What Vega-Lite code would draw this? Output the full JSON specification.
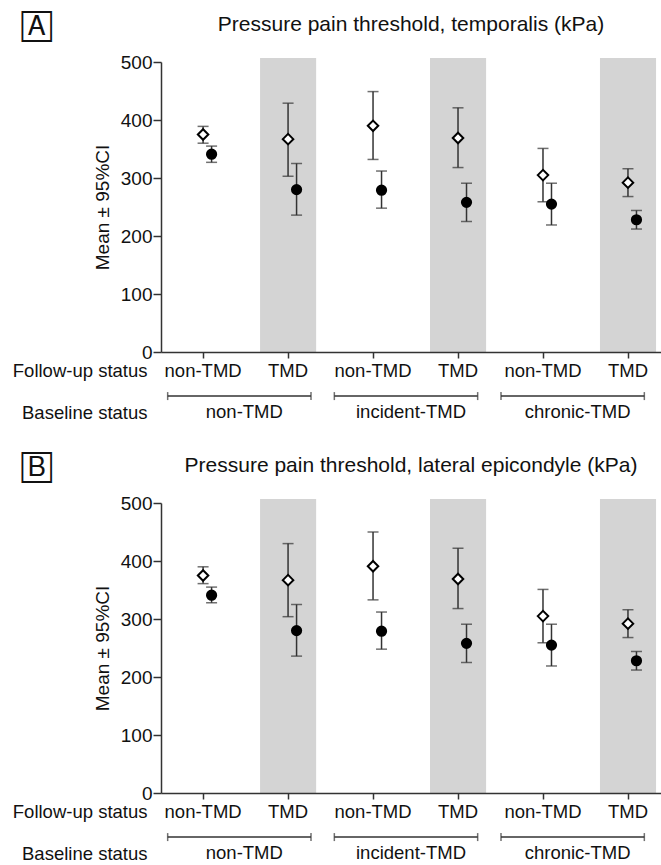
{
  "$schema": "https://vega.github.io/schema/vega-lite/v6.json",
  "padding": {"left": 12, "top": 13, "right": 0, "bottom": 0},
  "config": {
    "font": "Liberation Sans",
    "view": {"stroke": null},
    "axis": {"labelFont": "Liberation Sans", "titleFont": "Liberation Sans", "labelColor": "#111", "titleColor": "#111", "domainColor": "#333", "tickColor": "#333", "domainWidth": 1.5, "tickWidth": 1.5, "grid": false, "labelFontSize": 18.5, "titleFontSize": 18.5, "titleFontWeight": "normal"},
    "title": {"font": "Liberation Sans", "fontSize": 21, "fontWeight": "normal", "color": "#111"},
    "concat": {"spacing": 32}
  },
  "datasets": {
    "pts": [
      {"panel": "A", "cat": "non-TMD|non-TMD", "base": "non-TMD", "fu": "non-TMD", "time": "Baseline", "mean": 375, "lo": 360, "hi": 389},
      {"panel": "A", "cat": "non-TMD|non-TMD", "base": "non-TMD", "fu": "non-TMD", "time": "Follow-up", "mean": 341, "lo": 327, "hi": 355},
      {"panel": "A", "cat": "non-TMD|TMD", "base": "non-TMD", "fu": "TMD", "time": "Baseline", "mean": 367, "lo": 303, "hi": 429},
      {"panel": "A", "cat": "non-TMD|TMD", "base": "non-TMD", "fu": "TMD", "time": "Follow-up", "mean": 280, "lo": 236, "hi": 325},
      {"panel": "A", "cat": "incident-TMD|non-TMD", "base": "incident-TMD", "fu": "non-TMD", "time": "Baseline", "mean": 390, "lo": 332, "hi": 449},
      {"panel": "A", "cat": "incident-TMD|non-TMD", "base": "incident-TMD", "fu": "non-TMD", "time": "Follow-up", "mean": 279, "lo": 248, "hi": 312},
      {"panel": "A", "cat": "incident-TMD|TMD", "base": "incident-TMD", "fu": "TMD", "time": "Baseline", "mean": 369, "lo": 318, "hi": 421},
      {"panel": "A", "cat": "incident-TMD|TMD", "base": "incident-TMD", "fu": "TMD", "time": "Follow-up", "mean": 258, "lo": 225, "hi": 291},
      {"panel": "A", "cat": "chronic-TMD|non-TMD", "base": "chronic-TMD", "fu": "non-TMD", "time": "Baseline", "mean": 305, "lo": 259, "hi": 351},
      {"panel": "A", "cat": "chronic-TMD|non-TMD", "base": "chronic-TMD", "fu": "non-TMD", "time": "Follow-up", "mean": 255, "lo": 219, "hi": 291},
      {"panel": "A", "cat": "chronic-TMD|TMD", "base": "chronic-TMD", "fu": "TMD", "time": "Baseline", "mean": 292, "lo": 268, "hi": 316},
      {"panel": "A", "cat": "chronic-TMD|TMD", "base": "chronic-TMD", "fu": "TMD", "time": "Follow-up", "mean": 228, "lo": 212, "hi": 244},
      {"panel": "B", "cat": "non-TMD|non-TMD", "base": "non-TMD", "fu": "non-TMD", "time": "Baseline", "mean": 375, "lo": 361, "hi": 390},
      {"panel": "B", "cat": "non-TMD|non-TMD", "base": "non-TMD", "fu": "non-TMD", "time": "Follow-up", "mean": 341, "lo": 328, "hi": 355},
      {"panel": "B", "cat": "non-TMD|TMD", "base": "non-TMD", "fu": "TMD", "time": "Baseline", "mean": 367, "lo": 304, "hi": 430},
      {"panel": "B", "cat": "non-TMD|TMD", "base": "non-TMD", "fu": "TMD", "time": "Follow-up", "mean": 280, "lo": 236, "hi": 325},
      {"panel": "B", "cat": "incident-TMD|non-TMD", "base": "incident-TMD", "fu": "non-TMD", "time": "Baseline", "mean": 391, "lo": 333, "hi": 450},
      {"panel": "B", "cat": "incident-TMD|non-TMD", "base": "incident-TMD", "fu": "non-TMD", "time": "Follow-up", "mean": 279, "lo": 248, "hi": 312},
      {"panel": "B", "cat": "incident-TMD|TMD", "base": "incident-TMD", "fu": "TMD", "time": "Baseline", "mean": 369, "lo": 318, "hi": 422},
      {"panel": "B", "cat": "incident-TMD|TMD", "base": "incident-TMD", "fu": "TMD", "time": "Follow-up", "mean": 258, "lo": 225, "hi": 291},
      {"panel": "B", "cat": "chronic-TMD|non-TMD", "base": "chronic-TMD", "fu": "non-TMD", "time": "Baseline", "mean": 305, "lo": 259, "hi": 351},
      {"panel": "B", "cat": "chronic-TMD|non-TMD", "base": "chronic-TMD", "fu": "non-TMD", "time": "Follow-up", "mean": 255, "lo": 219, "hi": 291},
      {"panel": "B", "cat": "chronic-TMD|TMD", "base": "chronic-TMD", "fu": "TMD", "time": "Baseline", "mean": 292, "lo": 268, "hi": 316},
      {"panel": "B", "cat": "chronic-TMD|TMD", "base": "chronic-TMD", "fu": "TMD", "time": "Follow-up", "mean": 228, "lo": 212, "hi": 244}
    ],
    "base": [
      {"base": "non-TMD"},
      {"base": "incident-TMD"},
      {"base": "chronic-TMD"}
    ]
  },
  "vconcat": [
    {
      "title": {"text": "🄰", "anchor": "start", "frame": "bounds", "offset": -27, "dx": 10, "fontSize": 27, "font": "DejaVu Sans"},
      "vconcat": [
        {
          "title": {"text": "Pressure pain threshold, temporalis (kPa)", "anchor": "middle", "frame": "group", "offset": 18},
          "width": 500,
          "height": 290,
          "resolve": {"scale": {"x": "independent"}},
          "layer": [
            {
              "data": {"name": "pts"},
              "transform": [{"filter": "datum.panel === 'A'"}],
              "encoding": {
                "x": {"field": "cat", "type": "nominal", "scale": {"domain": ["non-TMD|non-TMD", "non-TMD|TMD", "incident-TMD|non-TMD", "incident-TMD|TMD", "chronic-TMD|non-TMD", "chronic-TMD|TMD"], "paddingInner": 0.34, "paddingOuter": 0.112, "align": 0.74},
                  "axis": {"title": "Follow-up status", "labelExpr": "split(datum.label, '|')[1]", "labelAngle": 0, "tickSize": 6, "labelPadding": 3, "titleX": -14, "titleY": 18, "titleAlign": "right", "titleBaseline": "middle"}}
              },
              "layer": [
                {
                  "transform": [{"filter": "datum.fu === 'TMD' && datum.time === 'Baseline'"}],
                  "mark": {"type": "rect", "color": "#d4d4d4"},
                  "encoding": {
                    "x": {"field": "cat", "type": "nominal", "bandPosition": 0},
                    "x2": {"field": "cat", "bandPosition": 1},
                    "y": {"datum": 0, "type": "quantitative"}, "y2": {"datum": 507}}
                },
                {
                  "mark": {"type": "rule", "color": "#333", "strokeWidth": 1.5},
                  "encoding": {
                    "xOffset": {"field": "time", "type": "nominal", "scale": {"type": "point", "domain": ["Baseline", "Follow-up"], "range": [28, 36.5], "padding": 0}},
                    "y": {"field": "lo", "type": "quantitative", "scale": {"domain": [0, 500], "nice": false}, "axis": {"title": "Mean ± 95%CI", "values": [0, 100, 200, 300, 400, 500], "tickSize": 8, "labelPadding": 1, "titlePadding": 8, "labelFontSize": 19, "titleFontSize": 19}},
                    "y2": {"field": "hi"}
                  }
                },
                {
                  "mark": {"type": "tick", "color": "#333", "thickness": 1.5, "size": 11},
                  "encoding": {
                    "xOffset": {"field": "time", "type": "nominal"},
                    "y": {"field": "lo", "type": "quantitative"}
                  }
                },
                {
                  "mark": {"type": "tick", "color": "#333", "thickness": 1.5, "size": 11},
                  "encoding": {
                    "xOffset": {"field": "time", "type": "nominal"},
                    "y": {"field": "hi", "type": "quantitative"}
                  }
                },
                {
                  "mark": {"type": "point", "filled": true, "stroke": "#000", "strokeWidth": 2, "opacity": 1},
                  "encoding": {
                    "xOffset": {"field": "time", "type": "nominal"},
                    "y": {"field": "mean", "type": "quantitative"},
                    "shape": {"field": "time", "type": "nominal", "scale": {"domain": ["Baseline", "Follow-up"], "range": ["diamond", "circle"]}, "legend": null},
                    "fill": {"field": "time", "type": "nominal", "scale": {"domain": ["Baseline", "Follow-up"], "range": ["#ffffff", "#000000"]}, "legend": null},
                    "size": {"field": "time", "type": "nominal", "scale": {"domain": ["Baseline", "Follow-up"], "range": [110, 85]}, "legend": null}
                  }
                }
              ]
            },
            {
              "data": {"name": "base"},
              "layer": [
                {
                  "mark": {"type": "rule", "color": "#333", "strokeWidth": 1.5},
                  "encoding": {
                    "x": {"field": "base", "type": "nominal", "bandPosition": 0.04, "scale": {"domain": ["non-TMD", "incident-TMD", "chronic-TMD"], "paddingInner": 0, "paddingOuter": 0},
                      "axis": {"orient": "bottom", "offset": 50, "domain": false, "ticks": false, "tickSize": 0, "labelPadding": 0, "labelAngle": 0, "bandPosition": 0.5, "title": "Baseline status", "titleX": -14, "titleY": 10, "titleAlign": "right", "titleBaseline": "middle"}},
                    "x2": {"field": "base", "bandPosition": 0.9},
                    "y": {"datum": -76, "type": "quantitative"}
                  }
                },
                {
                  "mark": {"type": "tick", "orient": "vertical", "color": "#333", "thickness": 1.5, "size": 8},
                  "encoding": {
                    "x": {"field": "base", "type": "nominal", "bandPosition": 0.04},
                    "y": {"datum": -76, "type": "quantitative"}
                  }
                },
                {
                  "mark": {"type": "tick", "orient": "vertical", "color": "#333", "thickness": 1.5, "size": 8},
                  "encoding": {
                    "x": {"field": "base", "type": "nominal", "bandPosition": 0.9},
                    "y": {"datum": -76, "type": "quantitative"}
                  }
                }
              ]
            }
          ]
        }
      ]
    },
    {
      "title": {"text": "🄱", "anchor": "start", "frame": "bounds", "offset": -27, "dx": 10, "fontSize": 27, "font": "DejaVu Sans"},
      "vconcat": [
        {
          "title": {"text": "Pressure pain threshold, lateral epicondyle (kPa)", "anchor": "middle", "frame": "group", "offset": 18},
          "width": 500,
          "height": 290,
          "resolve": {"scale": {"x": "independent"}},
          "layer": [
            {
              "data": {"name": "pts"},
              "transform": [{"filter": "datum.panel === 'B'"}],
              "encoding": {
                "x": {"field": "cat", "type": "nominal", "scale": {"domain": ["non-TMD|non-TMD", "non-TMD|TMD", "incident-TMD|non-TMD", "incident-TMD|TMD", "chronic-TMD|non-TMD", "chronic-TMD|TMD"], "paddingInner": 0.34, "paddingOuter": 0.112, "align": 0.74},
                  "axis": {"title": "Follow-up status", "labelExpr": "split(datum.label, '|')[1]", "labelAngle": 0, "tickSize": 6, "labelPadding": 3, "titleX": -14, "titleY": 18, "titleAlign": "right", "titleBaseline": "middle"}}
              },
              "layer": [
                {
                  "transform": [{"filter": "datum.fu === 'TMD' && datum.time === 'Baseline'"}],
                  "mark": {"type": "rect", "color": "#d4d4d4"},
                  "encoding": {
                    "x": {"field": "cat", "type": "nominal", "bandPosition": 0},
                    "x2": {"field": "cat", "bandPosition": 1},
                    "y": {"datum": 0, "type": "quantitative"}, "y2": {"datum": 507}}
                },
                {
                  "mark": {"type": "rule", "color": "#333", "strokeWidth": 1.5},
                  "encoding": {
                    "xOffset": {"field": "time", "type": "nominal", "scale": {"type": "point", "domain": ["Baseline", "Follow-up"], "range": [28, 36.5], "padding": 0}},
                    "y": {"field": "lo", "type": "quantitative", "scale": {"domain": [0, 500], "nice": false}, "axis": {"title": "Mean ± 95%CI", "values": [0, 100, 200, 300, 400, 500], "tickSize": 8, "labelPadding": 1, "titlePadding": 8, "labelFontSize": 19, "titleFontSize": 19}},
                    "y2": {"field": "hi"}
                  }
                },
                {
                  "mark": {"type": "tick", "color": "#333", "thickness": 1.5, "size": 11},
                  "encoding": {
                    "xOffset": {"field": "time", "type": "nominal"},
                    "y": {"field": "lo", "type": "quantitative"}
                  }
                },
                {
                  "mark": {"type": "tick", "color": "#333", "thickness": 1.5, "size": 11},
                  "encoding": {
                    "xOffset": {"field": "time", "type": "nominal"},
                    "y": {"field": "hi", "type": "quantitative"}
                  }
                },
                {
                  "mark": {"type": "point", "filled": true, "stroke": "#000", "strokeWidth": 2, "opacity": 1},
                  "encoding": {
                    "xOffset": {"field": "time", "type": "nominal"},
                    "y": {"field": "mean", "type": "quantitative"},
                    "shape": {"field": "time", "type": "nominal", "scale": {"domain": ["Baseline", "Follow-up"], "range": ["diamond", "circle"]}, "legend": null},
                    "fill": {"field": "time", "type": "nominal", "scale": {"domain": ["Baseline", "Follow-up"], "range": ["#ffffff", "#000000"]}, "legend": null},
                    "size": {"field": "time", "type": "nominal", "scale": {"domain": ["Baseline", "Follow-up"], "range": [110, 85]}, "legend": null}
                  }
                }
              ]
            },
            {
              "data": {"name": "base"},
              "layer": [
                {
                  "mark": {"type": "rule", "color": "#333", "strokeWidth": 1.5},
                  "encoding": {
                    "x": {"field": "base", "type": "nominal", "bandPosition": 0.04, "scale": {"domain": ["non-TMD", "incident-TMD", "chronic-TMD"], "paddingInner": 0, "paddingOuter": 0},
                      "axis": {"orient": "bottom", "offset": 50, "domain": false, "ticks": false, "tickSize": 0, "labelPadding": 0, "labelAngle": 0, "bandPosition": 0.5, "title": "Baseline status", "titleX": -14, "titleY": 10, "titleAlign": "right", "titleBaseline": "middle"}},
                    "x2": {"field": "base", "bandPosition": 0.9},
                    "y": {"datum": -76, "type": "quantitative"}
                  }
                },
                {
                  "mark": {"type": "tick", "orient": "vertical", "color": "#333", "thickness": 1.5, "size": 8},
                  "encoding": {
                    "x": {"field": "base", "type": "nominal", "bandPosition": 0.04},
                    "y": {"datum": -76, "type": "quantitative"}
                  }
                },
                {
                  "mark": {"type": "tick", "orient": "vertical", "color": "#333", "thickness": 1.5, "size": 8},
                  "encoding": {
                    "x": {"field": "base", "type": "nominal", "bandPosition": 0.9},
                    "y": {"datum": -76, "type": "quantitative"}
                  }
                }
              ]
            }
          ]
        }
      ]
    }
  ]
}
